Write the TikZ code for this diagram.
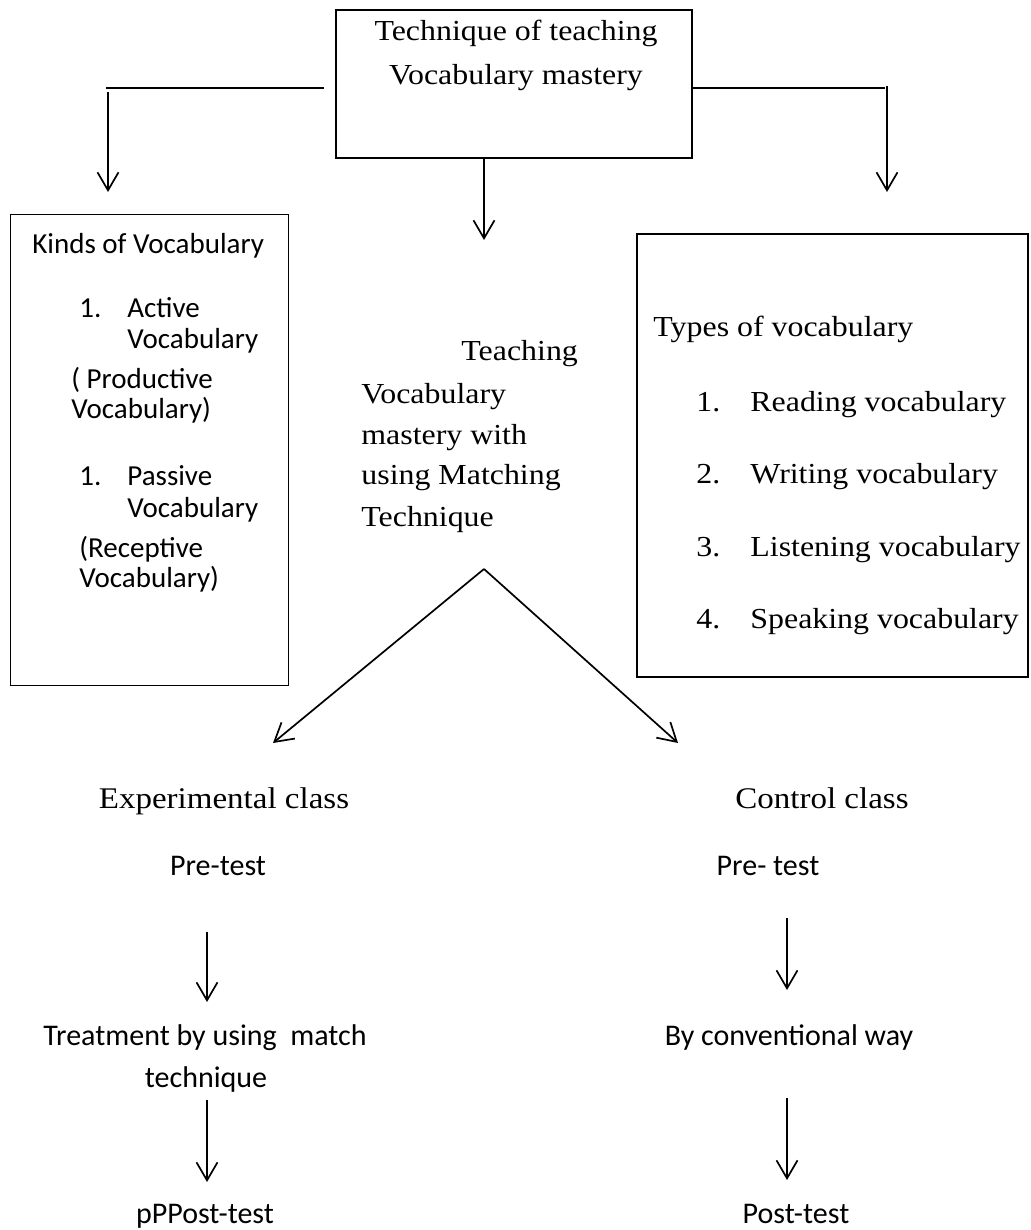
\documentclass[tikz,border=0pt]{standalone}
\usepackage{fontspec}
\setmainfont{Liberation Serif}[FakeStretch=1.1]
\newfontfamily\calib{Carlito}
\usetikzlibrary{arrows.meta}

\tikzset{
  frame/.style={draw, line width=0.85pt, inner sep=0pt},
  thinframe/.style={draw, line width=0.5pt, inner sep=0pt},
  serif/.style={inner sep=0pt, anchor=base west, font=\fontsize{14.5}{17}\selectfont},
  bigserif/.style={inner sep=0pt, anchor=base, font=\fontsize{15}{18}\selectfont},
  sans/.style={inner sep=0pt, anchor=base west, font=\calib\fontsize{14.5}{17}\selectfont},
  bigsans/.style={inner sep=0pt, anchor=base, font=\calib\fontsize{15}{18}\selectfont},
  link/.style={line width=0.85pt},
  arr/.style={link, -{Straight Barb[length=9pt,width=10.5pt,line width=0.85pt]}}
}

\begin{document}
\begin{tikzpicture}[x=0.5pt,y=-0.5pt]
\useasboundingbox (0,0) rectangle (1030,1230);

%Top box
\node[frame, minimum width=178pt, minimum height=74pt] (top) at (514,84) {};
\node[serif, anchor=base] (toptxt) at (516,41) {Technique of teaching};
\node[serif, anchor=base] (toptxtb) at (516,85) {Vocabulary mastery};

%Left box
\node[thinframe, minimum width=139pt, minimum height=235pt] (kinds) at (149,450) {};
\node[sans] (kindshead) at (32,254) {Kinds of Vocabulary};
\node[sans] (kindsnumA) at (79,317) {1.};
\node[sans] (kindsA) at (127,317) {Active};
\node[sans] (kindsAb) at (127,348) {Vocabulary};
\node[sans] (kindsAc) at (71,388) {( Productive};
\node[sans] (kindsAd) at (71,418) {Vocabulary)};
\node[sans] (kindsnumB) at (79,485) {1.};
\node[sans] (kindsB) at (127,485) {Passive};
\node[sans] (kindsBb) at (127,517) {Vocabulary};
\node[sans] (kindsBc) at (79,557) {(Receptive};
\node[sans] (kindsBd) at (79,587) {Vocabulary)};

%Right box
\node[frame, minimum width=195.5pt, minimum height=221.5pt] (types) at (832.5,455.5) {};
\node[serif] (typeshead) at (653,336) {Types of vocabulary};
\foreach \k/\w/\y in {1/Reading/411, 2/Writing/483, 3/Listening/556, 4/Speaking/628}{
  \node[serif] (typesnum\k) at (696,\y) {\k.};
  \node[serif] (types\k) at (750,\y) {\w\ vocabulary};
}

%Centre text
\node[serif] (teachA) at (461,360) {Teaching};
\node[serif] (teachB) at (361,403) {Vocabulary};
\node[serif] (teachC) at (361,444) {mastery with};
\node[serif] (teachD) at (361,484) {using Matching};
\node[serif] (teachE) at (361,526) {Technique};

%Classes
\node[bigserif] (expcls) at (224,808) {Experimental class};
\node[bigserif] (ctlcls) at (822,808) {Control class};
\node[bigsans] (expre) at (218,875) {Pre-test};
\node[bigsans] (ctlpre) at (768,875) {Pre- test};
\node[bigsans] (extreat) at (205,1045) {Treatment by using\ \ match};
\node[bigsans] (extreatb) at (206,1087) {technique};
\node[bigsans] (ctlconv) at (789,1045) {By conventional way};
\node[bigsans] (expost) at (205,1223) {pPPost-test};
\node[bigsans] (ctlpost) at (796,1223) {Post-test};

%Connector ends
\coordinate (lknee) at (106,88);
\coordinate (ltip) at (108,192);
\coordinate (rknee) at (885,88);
\coordinate (rtip) at (887,192);
\coordinate (ctip) at (484,240);
\coordinate (apex) at (484,569);
\coordinate (dleft) at (273,743);
\coordinate (dright) at (678,743);
\coordinate (ea) at (207,932);
\coordinate (eb) at (207,1002);
\coordinate (ec) at (207,1100);
\coordinate (ed) at (207,1182);
\coordinate (ca) at (787,918);
\coordinate (cb) at (787,990);
\coordinate (cc) at (787,1098);
\coordinate (cd) at (787,1180);

%Top connectors
\draw[link] ([xshift=-5.5pt,yshift=-2pt]top.west) -- (lknee);
\draw[arr] ([shift={(1pt,-2pt)}]lknee) -- (ltip);
\draw[link] ([yshift=-2pt]top.east) -- (rknee);
\draw[arr] ([shift={(1pt,1pt)}]rknee) -- (rtip);
\draw[arr] ([xshift=-15pt]top.south) -- (ctip);

%Split
\draw[arr] (apex) -- (dleft);
\draw[arr] (apex) -- (dright);

%Class steps
\draw[arr] (ea) -- (eb);
\draw[arr] (ec) -- (ed);
\draw[arr] (ca) -- (cb);
\draw[arr] (cc) -- (cd);

\end{tikzpicture}
\end{document}
